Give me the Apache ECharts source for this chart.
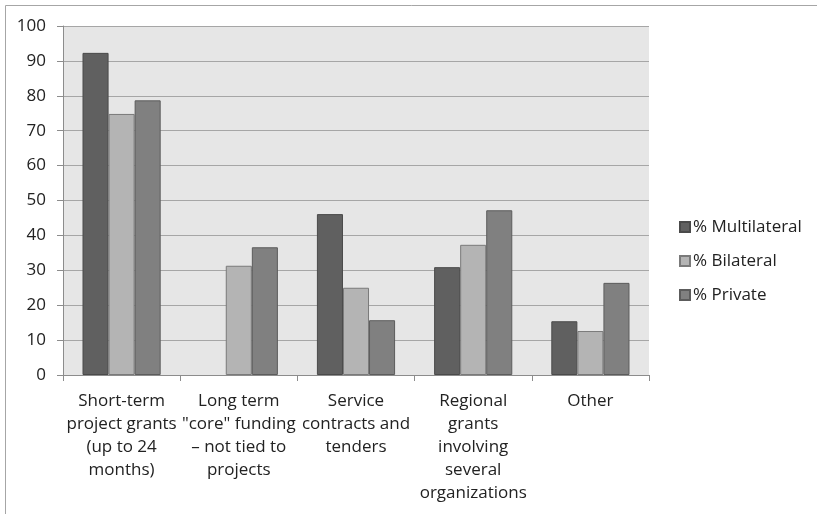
<!DOCTYPE html>
<html>
<head>
<meta charset="utf-8">
<script src="https://cdn.jsdelivr.net/npm/echarts@6/dist/echarts.min.js"></script>
<style>
html,body{margin:0;padding:0;background:#fff;}
#c{width:817px;height:514px;}
</style>
</head>
<body>
<div id="c"></div>
<script>
var categories = [
  'Short-term\nproject grants\n(up to 24\nmonths)',
  'Long term\n"core" funding\n\u2013 not tied to\nprojects',
  'Service\ncontracts and\ntenders',
  'Regional\ngrants\ninvolving\nseveral\norganizations',
  'Other'
];
var seriesNames = ['% Multilateral', '% Bilateral', '% Private'];
var multilateral = [92.3, 0, 46.1, 30.9, 15.4];
var bilateral = [74.8, 31.3, 25.0, 37.3, 12.6];
var privateVals = [78.7, 36.6, 15.7, 47.2, 26.4];
var yTicks = [0, 10, 20, 30, 40, 50, 60, 70, 80, 90, 100];

var colors = ['#606060', '#b4b4b4', '#808080'];
var borders = ['#4a4a4a', '#7a7a7a', '#5c5c5c'];
var font = 'Open Sans';

var chart = echarts.init(document.getElementById('c'), null, {renderer: 'canvas'});
var dataSets = [multilateral, bilateral, privateVals];
var series = dataSets.map(function (d, i) {
  return {
    name: seriesNames[i],
    type: 'bar',
    data: d.map(function (v) {
      return v === 0 ? {value: v, itemStyle: {borderWidth: 0}} : v;
    }),
    barGap: '0%',
    barCategoryGap: '33.3%',
    itemStyle: {color: colors[i], borderColor: borders[i], borderWidth: 1},
    emphasis: {disabled: true}
  };
});

chart.setOption({
  animation: false,
  graphic: [{
    type: 'rect',
    shape: {x: 5.5, y: 5.5, width: 830, height: 530},
    style: {fill: 'none', stroke: '#a6a6a6', lineWidth: 1},
    silent: true,
    z: -10
  }],
  grid: {left: 63, top: 26, right: 168, bottom: 139, show: true, backgroundColor: '#e6e6e6', borderWidth: 0},
  legend: {
    orient: 'vertical',
    left: 674,
    top: 212,
    itemWidth: 10,
    itemHeight: 10,
    itemGap: 14,
    icon: 'rect',
    data: seriesNames,
    textStyle: {fontFamily: font, fontSize: 17, color: '#222', padding: [0, 0, 0, -2], lineHeight: 20}
  },
  xAxis: {
    type: 'category',
    data: categories,
    axisLine: {lineStyle: {color: '#8c8c8c', width: 1}},
    axisTick: {show: true, length: 6, lineStyle: {color: '#8c8c8c'}},
    axisLabel: {fontFamily: font, fontSize: 17, color: '#222', lineHeight: 23, margin: 15, interval: 0}
  },
  yAxis: {
    type: 'value',
    min: 0,
    max: 100,
    interval: 10,
    axisLine: {show: true, lineStyle: {color: '#8c8c8c', width: 1}},
    axisTick: {show: true, length: 6, lineStyle: {color: '#8c8c8c'}},
    splitLine: {show: true, lineStyle: {color: '#a6a6a6', width: 1}},
    axisLabel: {
      fontFamily: font, fontSize: 17, color: '#222', margin: 17,
      formatter: function (v) { return yTicks.indexOf(v) >= 0 ? String(v) : ''; }
    }
  },
  series: series
});
</script>
</body>
</html>
